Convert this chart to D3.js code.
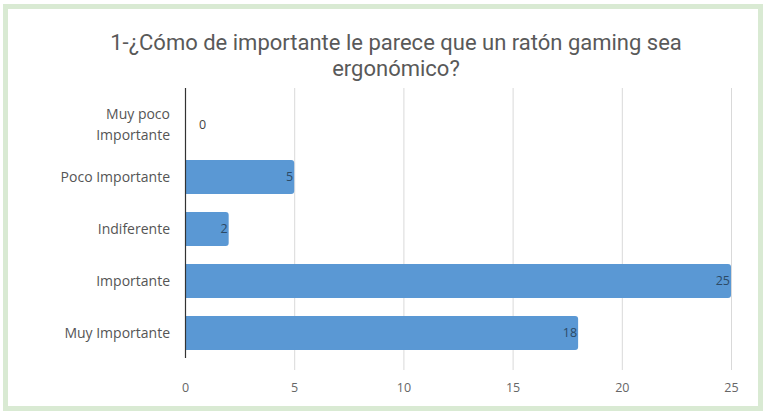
<!DOCTYPE html>
<html>
<head>
<meta charset="utf-8">
<script src="https://cdn.jsdelivr.net/npm/d3@7"></script>
<style>
  html, body { margin: 0; padding: 0; background: #fff; }
  svg { display: block; }
</style>
</head>
<body>
<svg id="chart" width="765" height="415"></svg>
<script>
// Survey answers and counts
const categories = ["Muy poco Importante", "Poco Importante", "Indiferente", "Importante", "Muy Importante"];
const categoryLines = [["Muy poco", "Importante"], ["Poco Importante"], ["Indiferente"], ["Importante"], ["Muy Importante"]];
const values = [0, 5, 2, 25, 18];
const xTicks = [0, 5, 10, 15, 20, 25];
const titleLines = ["1-¿Cómo de importante le parece que un ratón gaming sea", "ergonómico?"];

const svg = d3.select("#chart");
const W = 765, H = 415;

// Frame
svg.append("rect").attr("x", 0).attr("y", 0).attr("width", W).attr("height", H).attr("fill", "#fff");
svg.append("rect").attr("x", 5.5).attr("y", 6.5).attr("width", W - 10).attr("height", H - 13)
  .attr("fill", "none").attr("stroke", "#d9ead3").attr("stroke-width", 5);

const font = "'Open Sans', 'Noto Sans', sans-serif";

// Title
svg.append("g").selectAll("text").data(titleLines).join("text")
  .attr("x", 396).attr("y", (d, i) => 50 + i * 26)
  .attr("text-anchor", "middle")
  .attr("font-family", "Roboto, 'Noto Sans', sans-serif")
  .attr("font-size", 22).attr("fill", "#595959")
  .text(d => d);

const x = d3.scaleLinear().domain([0, 25]).range([185, 731]);
const y = d3.scaleBand().domain(categories).range([99, 359]).paddingInner(0.35).paddingOuter(0.175);

// Vertical gridlines
svg.append("g").selectAll("line").data(xTicks.filter(t => t > 0)).join("line")
  .attr("x1", d => x(d) + 0.5).attr("x2", d => x(d) + 0.5)
  .attr("y1", 88).attr("y2", 370)
  .attr("stroke", "#d9d9d9").attr("stroke-width", 1);

// Bottom axis labels
const xAxis = d3.axisBottom(x).tickValues(xTicks).tickSize(0).tickPadding(0);
const gx = svg.append("g").attr("transform", "translate(0,383)").call(xAxis);
gx.select(".domain").remove();
gx.selectAll("text").attr("font-family", font).attr("font-size", 12.5).attr("fill", "#666").attr("dy", "0.71em");

// Bars with rounded right end
const r = 3;
function barPath(d, i) {
  const x0 = x(0), x1 = x(values[i]), y0 = y(categories[i]), h = y.bandwidth();
  if (x1 - x0 < 0.5) return "";
  return `M${x0},${y0}H${x1 - r}Q${x1},${y0} ${x1},${y0 + r}V${y0 + h - r}Q${x1},${y0 + h} ${x1 - r},${y0 + h}H${x0}Z`;
}
svg.append("g").selectAll("path").data(values).join("path")
  .attr("d", barPath)
  .attr("fill", "#5a98d4");

// Zero line
svg.append("line").attr("x1", x(0) + 0.5).attr("x2", x(0) + 0.5).attr("y1", 88).attr("y2", 358)
  .attr("stroke", "#333").attr("stroke-width", 1.2);

// Value labels
svg.append("g").selectAll("text").data(values).join("text")
  .attr("x", (d, i) => d === 0 ? x(0) + 14 : x(d) - 1)
  .attr("y", (d, i) => y(categories[i]) + y.bandwidth() / 2)
  .attr("dy", "0.35em")
  .attr("text-anchor", d => d === 0 ? "start" : "end")
  .attr("font-family", font).attr("font-size", 12.5)
  .attr("fill", d => d === 0 ? "#444" : "#2c4a66")
  .text(d => d);

// Category labels
const gy = svg.append("g");
categories.forEach((c, i) => {
  const lines = categoryLines[i];
  const cy = y(c) + y.bandwidth() / 2;
  const t = gy.append("text")
    .attr("text-anchor", "end")
    .attr("font-family", font).attr("font-size", 14).attr("fill", "#555");
  lines.forEach((ln, j) => {
    t.append("tspan").attr("x", 170)
      .attr("y", cy + (j - (lines.length - 1) / 2) * 21)
      .attr("dy", "0.35em")
      .text(ln);
  });
});
</script>
</body>
</html>
